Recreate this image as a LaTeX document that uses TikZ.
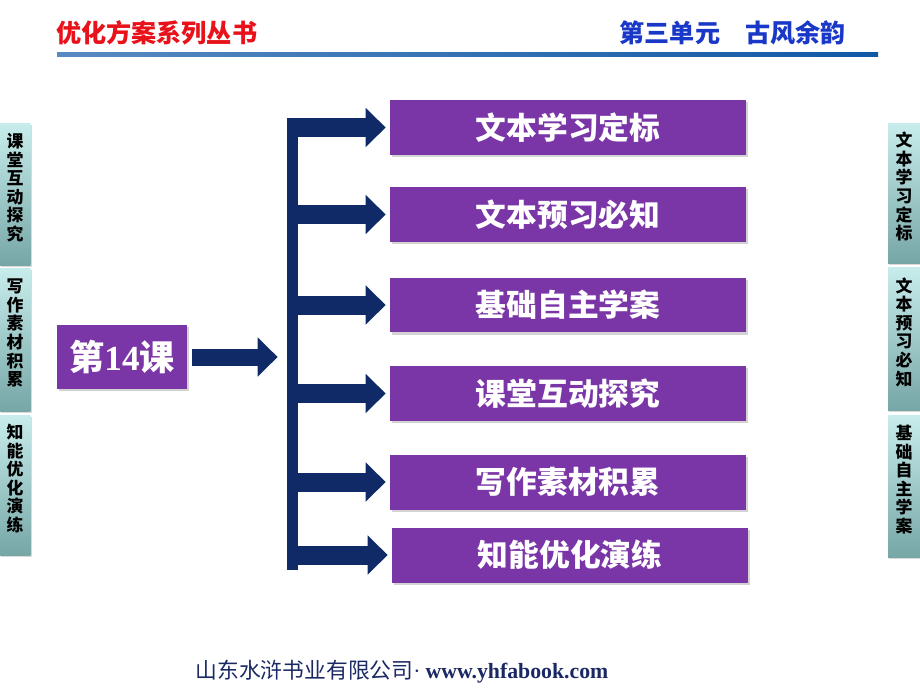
\documentclass[tikz,border=0pt]{standalone}
\usepackage{fontspec}
\setmainfont{Liberation Serif}
\newfontfamily\cjk{Noto Sans CJK SC}
\usetikzlibrary{arrows.meta,shadows}

\definecolor{navyarrow}{RGB}{16,42,104}
\definecolor{boxpurple}{RGB}{122,54,166}
\definecolor{tabtop}{RGB}{200,236,236}
\definecolor{tabbottom}{RGB}{118,166,166}
\definecolor{headred}{RGB}{232,18,26}
\definecolor{headblue}{RGB}{26,56,200}
\definecolor{lineblue}{RGB}{16,88,166}
\definecolor{footnavy}{RGB}{26,40,100}

\begin{document}
\begin{tikzpicture}[x=0.02cm,y=-0.02cm,
  topic/.style={fill=boxpurple, text=white, minimum width=7.12cm, minimum height=1.1cm,
    font=\cjk\bfseries\fontsize{17.5}{19}\selectfont,
    drop shadow={shadow xshift=1.2pt, shadow yshift=-1.2pt, opacity=0.35}},
  sidetab/.style={anchor=north, top color=tabtop, bottom color=tabbottom, align=center,
    inner sep=0pt, font=\cjk\bfseries\fontsize{9.6}{10.6}\selectfont,
    drop shadow={shadow xshift=0.8pt, shadow yshift=-0.8pt, opacity=0.3}},
  fatarrow/.style={draw=navyarrow, line width=0.38cm,
    -{Triangle[width=0.76cm, length=0.4cm, fill=navyarrow]}}]
  \useasboundingbox (0,0) rectangle (920,690);

  \node[anchor=west, text=headred, font=\cjk\bfseries\fontsize{14.3}{16}\selectfont] (series) at (50,33) {优化方案系列丛书};
  \node[anchor=east, text=headblue, font=\cjk\bfseries\fontsize{14.3}{16}\selectfont] (unit) at (852,33) {第三单元　古风余韵};
  \shade[left color=lineblue!70, right color=lineblue] (57,52) rectangle (878,56);

  \node[sidetab, minimum width=0.62cm, minimum height=2.84cm] (lt1) at (15,123) {课\\堂\\互\\动\\探\\究\\[-2pt]\null};
  \node[sidetab, minimum width=0.62cm, minimum height=2.86cm] (lt2) at (15,268) {写\\作\\素\\材\\积\\累\\[-2pt]\null};
  \node[sidetab, minimum width=0.62cm, minimum height=2.8cm] (lt3) at (15,415) {知\\能\\优\\化\\演\\练\\[-2pt]\null};
  \node[sidetab, minimum width=0.64cm, minimum height=2.8cm] (rt1) at (904,123) {文\\本\\学\\习\\定\\标\\[-2pt]\null};
  \node[sidetab, minimum width=0.64cm, minimum height=2.86cm] (rt2) at (904,267) {文\\本\\预\\习\\必\\知\\[-2pt]\null};
  \node[sidetab, minimum width=0.64cm, minimum height=2.84cm] (rt3) at (904,415) {基\\础\\自\\主\\学\\案\\[-2pt]\null};

  \node[fill=boxpurple, text=white, minimum width=2.6cm, minimum height=1.28cm,
    font=\cjk\bfseries\fontsize{20}{22}\selectfont,
    drop shadow={shadow xshift=1.2pt, shadow yshift=-1.2pt, opacity=0.35}] (lesson) at (122,357) {第{\rmfamily\bfseries 14}课};
  \node[fill=navyarrow, minimum width=0.22cm, minimum height=9.04cm, inner sep=0pt] (bar) at (292.5,344) {};

  \node[topic] (t1) at (568,127.5) {文本学习定标};
  \node[topic] (t2) at (568,214.5) {文本预习必知};
  \node[topic] (t3) at (568,305) {基础自主学案};
  \node[topic] (t4) at (568,393.5) {课堂互动探究};
  \node[topic] (t5) at (568,482) {写作素材积累};
  \node[topic] (t6) at (570,555) {知能优化演练};

  \draw[fatarrow, line width=0.34cm, shorten <=0.1cm, shorten >=0.18cm] (lesson.east) -- (bar.west |- lesson.east);
  \foreach \t in {t1,t2,t3,t4,t5,t6}
    \draw[fatarrow, shorten >=0.08cm] (bar.east |- \t.west) -- (\t.west);

  \node[text=footnavy, font=\cjk\fontsize{12.4}{14}\selectfont] (footer) at (402,672)
    {山东水浒书业有限公司{\rmfamily ·} {\rmfamily\bfseries www.yhfabook.com}};
\end{tikzpicture}
\end{document}
